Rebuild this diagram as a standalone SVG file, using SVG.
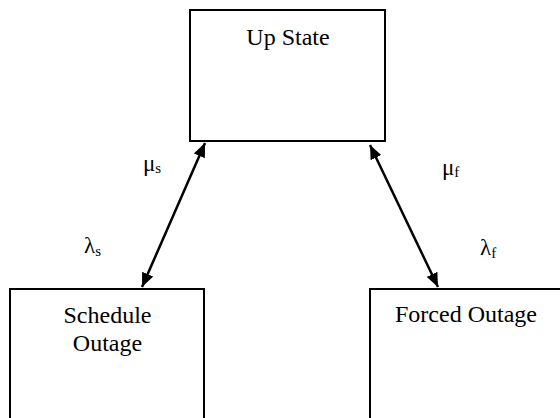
<svg xmlns="http://www.w3.org/2000/svg" width="560" height="418" viewBox="0 0 560 418">
<style>
.box{fill:#fff;stroke:#000;stroke-width:2}
text{font-family:'Times New Roman',Times,'Liberation Serif',serif;fill:#000}
.t{font-size:24px;text-anchor:middle}
.g{font-size:23px}
.sub{font-size:15px}
.c{stroke:#000;stroke-width:2.5;fill:none;marker-start:url(#ah);marker-end:url(#ah)}
</style>
<defs>
<marker id="ah" viewBox="0 0 14 12" refX="14" refY="6" markerWidth="14" markerHeight="12" markerUnits="userSpaceOnUse" orient="auto-start-reverse">
<path d="M0,0 L14,6 L0,12 z" fill="#000"/>
</marker>
</defs>
<rect width="560" height="418" fill="#fff"/>
<g id="up-state">
<rect class="box" x="190" y="10" width="195" height="131"/>
<text class="t" x="288" y="45">Up State</text>
</g>
<g id="schedule-outage">
<rect class="box" x="10" y="289" width="194" height="140"/>
<text class="t" x="107.5" y="323">Schedule</text>
<text class="t" x="107.5" y="351">Outage</text>
</g>
<g id="forced-outage">
<rect class="box" x="370" y="289" width="192" height="140"/>
<text class="t" x="466" y="322">Forced Outage</text>
</g>
<g id="connectors">
<line class="c" x1="142" y1="287" x2="205" y2="143"/>
<line class="c" x1="370" y1="145" x2="438" y2="287"/>
</g>
<g id="labels">
<text class="g" x="143" y="171">μ<tspan class="sub" dy="2">s</tspan></text>
<text class="g" x="84" y="253">λ<tspan class="sub" dy="3">s</tspan></text>
<text class="g" x="442" y="175">μ<tspan class="sub" dy="2">f</tspan></text>
<text class="g" x="480" y="255">λ<tspan class="sub" dy="3">f</tspan></text>
</g>
</svg>
